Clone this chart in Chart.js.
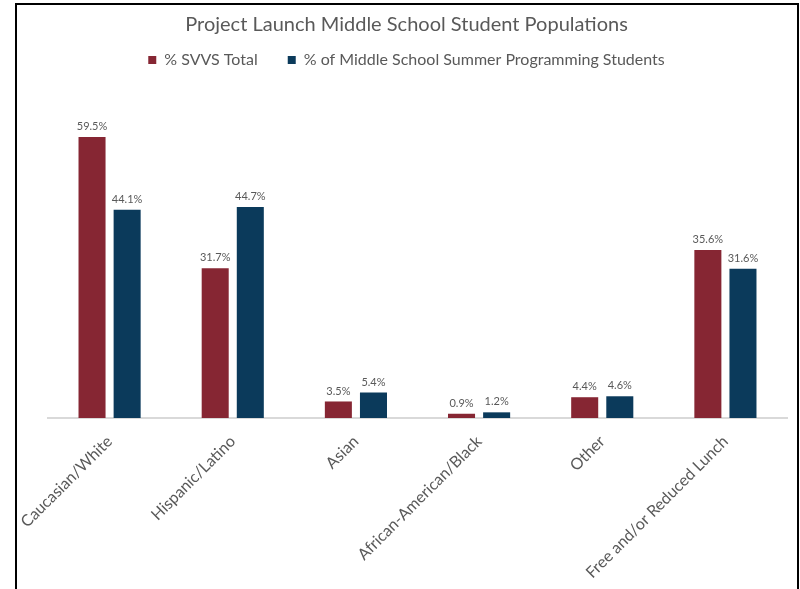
<!DOCTYPE html>
<html>
<head>
<meta charset="utf-8">
<script src="https://cdn.jsdelivr.net/npm/chart.js@4/dist/chart.umd.min.js"></script>
<style>
  html, body { margin: 0; padding: 0; background: #fff; overflow: hidden; }
  #wrap { position: relative; width: 800px; height: 589px; }
  #frame { position: absolute; left: 15px; top: 3px; width: 780px; height: 600px;
           border-left: 2px solid #000; border-top: 2px solid #000; border-right: 2px solid #000; pointer-events: none; }
</style>
</head>
<body>
<div id="wrap">
  <canvas id="c" width="800" height="589"></canvas>
  <div id="frame"></div>
</div>
<script>
const categories = ["Caucasian/White", "Hispanic/Latino", "Asian", "African-American/Black", "Other", "Free and/or Reduced Lunch"];
const svvsTotal = [59.5, 31.7, 3.5, 0.9, 4.4, 35.6];
const summerStudents = [44.1, 44.7, 5.4, 1.2, 4.6, 31.6];
const seriesNames = ["% SVVS Total", "% of Middle School Summer Programming Students"];
const chartTitle = "Project Launch Middle School Student Populations";

const FONT = "Lato, 'Open Sans', sans-serif";

const valueLabels = {
  id: 'valueLabels',
  afterDatasetsDraw(chart) {
    const ctx = chart.ctx;
    ctx.save();
    ctx.font = "11px " + FONT;
    ctx.fillStyle = "#595959";
    ctx.textAlign = "center";
    ctx.textBaseline = "bottom";
    chart.data.datasets.forEach((ds, i) => {
      const meta = chart.getDatasetMeta(i);
      meta.data.forEach((el, j) => {
        ctx.fillText(ds.data[j].toFixed(1) + "%", el.x, el.y - 5);
      });
    });
    ctx.restore();
  }
};

new Chart(document.getElementById('c'), {
  type: 'bar',
  data: {
    labels: categories,
    datasets: [
      { label: seriesNames[0], data: svvsTotal, backgroundColor: '#862633',
        categoryPercentage: 0.57, barPercentage: 0.77 },
      { label: seriesNames[1], data: summerStudents, backgroundColor: '#0b3a5b',
        categoryPercentage: 0.57, barPercentage: 0.77 }
    ]
  },
  options: {
    responsive: false,
    animation: false,
    layout: { padding: { left: 26, right: 13, top: 0, bottom: 0 } },
    plugins: {
      title: {
        display: true, text: chartTitle, color: '#595959',
        font: { family: FONT, size: 20, weight: 'normal', lineHeight: 0 },
        padding: { top: 25, bottom: -3 }
      },
      legend: {
        display: true, position: 'top',
        labels: { color: '#595959', font: { family: FONT, size: 16 },
                  boxWidth: 8, boxHeight: 8, padding: 30 }
      },
      tooltip: { enabled: false }
    },
    scales: {
      x: {
        grid: { display: false },
        border: { display: true, color: '#d9d9d9', width: 2 },
        ticks: { color: '#595959', font: { family: FONT, size: 16 },
                 minRotation: 45, maxRotation: 45, padding: 6, autoSkip: false },
        afterFit(scale) { scale.height = 171; scale.paddingLeft = 0; scale.paddingRight = 0; }
      },
      y: {
        display: true, min: 0, max: 72,
        grid: { display: false },
        border: { display: false },
        ticks: { display: false },
        afterFit(scale) { scale.width = 22; }
      }
    }
  },
  plugins: [valueLabels]
});
</script>
</body>
</html>
